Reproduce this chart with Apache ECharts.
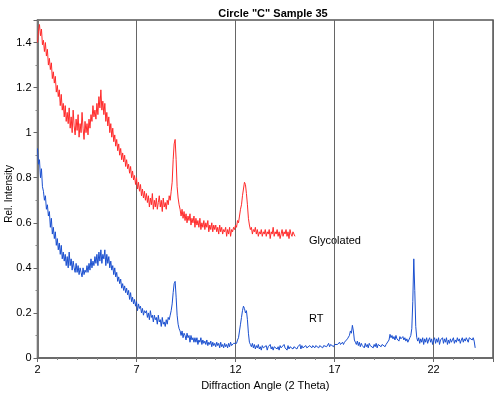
<!DOCTYPE html>
<html>
<head>
<meta charset="utf-8">
<script src="https://cdn.jsdelivr.net/npm/echarts@6/dist/echarts.min.js"></script>
<style>html,body{margin:0;padding:0;background:#fff}#c{width:500px;height:396px}</style>
</head>
<body>
<div id="c"></div>
<script>
var titleText = 'Circle "C" Sample 35';
var xName = 'Diffraction Angle (2 Theta)';
var yName = 'Rel. Intensity';
var xTicks = [2, 7, 12, 17, 22];
var yTicks = [0, 0.2, 0.4, 0.6, 0.8, 1, 1.2, 1.4];

// Glycolated: 2θ from 2.00, step 0.05
var glyStart = 2.0, glyStep = 0.05;
var glycolated = [
1.40,1.45,1.48,1.43,1.46,1.39,1.41,1.36,1.40,1.34,
1.37,1.30,1.33,1.28,1.31,1.24,1.27,1.22,1.25,1.18,
1.21,1.16,1.19,1.12,1.17,1.10,1.13,1.07,1.12,1.05,
1.09,1.04,1.11,1.02,1.07,1.00,1.10,1.03,0.99,1.06,
1.01,1.08,0.98,1.04,1.00,1.09,1.02,0.97,1.05,1.00,
1.04,0.99,1.06,1.02,1.08,1.05,1.12,1.07,1.10,1.06,
1.13,1.08,1.16,1.11,1.19,1.10,1.14,1.08,1.13,1.05,
1.09,1.03,1.07,1.00,1.04,0.98,1.02,0.96,0.99,0.94,
0.97,0.92,0.95,0.90,0.93,0.88,0.91,0.87,0.90,0.85,
0.88,0.84,0.86,0.82,0.85,0.80,0.83,0.79,0.81,0.77,
0.80,0.75,0.78,0.74,0.77,0.72,0.75,0.71,0.74,0.70,
0.73,0.69,0.72,0.67,0.71,0.68,0.73,0.66,0.70,0.67,
0.71,0.66,0.69,0.72,0.67,0.70,0.65,0.71,0.67,0.69,
0.66,0.70,0.68,0.72,0.70,0.74,0.78,0.88,0.95,0.97,
0.88,0.76,0.71,0.68,0.66,0.63,0.66,0.62,0.65,0.61,
0.64,0.60,0.63,0.61,0.64,0.59,0.62,0.60,0.63,0.58,
0.62,0.59,0.61,0.58,0.62,0.57,0.60,0.58,0.61,0.57,
0.60,0.58,0.61,0.56,0.59,0.57,0.60,0.56,0.59,0.57,
0.59,0.56,0.58,0.55,0.59,0.56,0.58,0.55,0.57,0.56,
0.58,0.54,0.57,0.55,0.58,0.54,0.57,0.56,0.58,0.57,
0.59,0.58,0.61,0.60,0.63,0.66,0.68,0.72,0.75,0.78,
0.77,0.73,0.68,0.62,0.59,0.57,0.58,0.55,0.57,0.56,
0.58,0.55,0.57,0.54,0.56,0.55,0.57,0.54,0.56,0.55,
0.57,0.54,0.56,0.55,0.57,0.53,0.56,0.55,0.58,0.54,
0.56,0.55,0.57,0.54,0.56,0.53,0.55,0.57,0.54,0.56,
0.55,0.57,0.54,0.56,0.53,0.57,0.55,0.54,0.56,0.55,
0.54
];

// RT: 2θ from 2.00, step 0.05
var rtStart = 2.0, rtStep = 0.05;
var rt = [
0.93,0.86,0.88,0.80,0.84,0.76,0.74,0.70,0.72,0.66,
0.68,0.63,0.65,0.58,0.62,0.55,0.58,0.53,0.56,0.50,
0.53,0.48,0.51,0.46,0.50,0.44,0.47,0.43,0.46,0.41,
0.45,0.40,0.47,0.41,0.44,0.39,0.43,0.40,0.38,0.42,
0.38,0.41,0.37,0.40,0.38,0.36,0.40,0.37,0.39,0.38,
0.41,0.38,0.42,0.39,0.44,0.40,0.43,0.41,0.45,0.42,
0.46,0.41,0.47,0.43,0.48,0.42,0.46,0.44,0.48,0.41,
0.46,0.42,0.45,0.40,0.43,0.39,0.41,0.37,0.40,0.36,
0.38,0.34,0.36,0.33,0.35,0.31,0.33,0.30,0.32,0.29,
0.31,0.28,0.30,0.26,0.29,0.25,0.27,0.24,0.26,0.23,
0.25,0.21,0.24,0.22,0.23,0.20,0.22,0.19,0.21,0.20,
0.21,0.18,0.20,0.17,0.21,0.18,0.19,0.16,0.19,0.17,
0.18,0.15,0.19,0.16,0.17,0.14,0.18,0.15,0.16,0.14,
0.17,0.15,0.18,0.17,0.19,0.21,0.24,0.29,0.33,0.34,
0.27,0.19,0.15,0.13,0.12,0.10,0.12,0.09,0.11,0.10,
0.08,0.11,0.09,0.10,0.07,0.10,0.08,0.09,0.07,0.09,
0.07,0.09,0.06,0.08,0.07,0.09,0.06,0.08,0.065,0.075,
0.06,0.08,0.055,0.07,0.06,0.075,0.05,0.07,0.055,0.065,
0.05,0.07,0.055,0.065,0.045,0.07,0.05,0.06,0.045,0.065,
0.05,0.06,0.045,0.065,0.05,0.07,0.055,0.06,0.065,0.06,
0.07,0.065,0.08,0.09,0.12,0.15,0.18,0.21,0.23,0.22,
0.20,0.21,0.17,0.11,0.07,0.06,0.05,0.065,0.045,0.06,
0.04,0.055,0.045,0.06,0.04,0.05,0.035,0.055,0.045,0.05,
0.04,0.055,0.035,0.05,0.045,0.06,0.04,0.05,0.035,0.05,
0.045,0.055,0.04,0.05,0.035,0.055,0.045,0.05,0.04,0.06,
0.045,0.05,0.035,0.055,0.04,0.05,0.045,0.055,0.04,0.05,
0.045,0.055,0.04,0.05,0.045,0.06,0.04,0.055,0.045,0.05,
0.04,0.055,0.045,0.05,0.04,0.055,0.05,0.045,0.055,0.05,
0.045,0.055,0.05,0.06,0.045,0.055,0.05,0.06,0.045,0.055,
0.05,0.06,0.05,0.055,0.065,0.05,0.06,0.055,0.065,0.05,
0.06,0.055,0.065,0.06,0.055,0.07,0.06,0.065,0.07,0.06,
0.07,0.075,0.07,0.085,0.09,0.10,0.12,0.11,0.145,0.12,
0.08,0.07,0.06,0.075,0.055,0.07,0.05,0.065,0.055,0.06,
0.045,0.065,0.05,0.06,0.045,0.065,0.055,0.05,0.06,0.045,
0.06,0.05,0.065,0.045,0.06,0.055,0.065,0.05,0.06,0.055,
0.065,0.05,0.06,0.065,0.06,0.08,0.105,0.09,0.10,0.085,
0.095,0.08,0.10,0.085,0.09,0.075,0.095,0.085,0.08,0.095,
0.08,0.09,0.075,0.085,0.07,0.08,0.09,0.10,0.13,0.25,
0.44,0.30,0.14,0.09,0.075,0.09,0.065,0.085,0.07,0.09,
0.06,0.085,0.07,0.09,0.065,0.08,0.09,0.07,0.085,0.06,
0.08,0.09,0.065,0.085,0.07,0.09,0.06,0.08,0.075,0.09,
0.065,0.085,0.07,0.09,0.06,0.08,0.065,0.085,0.07,0.08,
0.09,0.065,0.08,0.07,0.09,0.075,0.085,0.065,0.08,0.09,
0.07,0.085,0.075,0.09,0.08,0.07,0.09,0.085,0.095,0.08,
0.09,0.075,0.045
];

function pairs(start, step, arr) {
  return arr.map(function (v, i) { return [+(start + i * step).toFixed(2), v]; });
}

var chart = echarts.init(document.getElementById('c'));
var font = 'Arial, "Liberation Sans", sans-serif';
chart.setOption({
  animation: false,
  backgroundColor: '#fff',
  title: {
    text: titleText, left: 268, top: 3, textAlign: 'center',
    textStyle: { fontFamily: font, fontSize: 11, fontWeight: 'bold', color: '#000' }
  },
  grid: { left: 37.5, right: 7, top: 20, bottom: 36, show: true, borderColor: '#555', borderWidth: 1.5, backgroundColor: 'transparent' },
  xAxis: {
    type: 'value', min: 2, max: 25, interval: 5,
    name: xName, nameLocation: 'middle', nameGap: 22,
    nameTextStyle: { fontFamily: font, fontSize: 11, color: '#000' },
    axisLine: { lineStyle: { color: '#666', width: 1.5 } },
    axisTick: { length: 4, lineStyle: { color: '#666' } },
    minorTick: { show: true, splitNumber: 5, length: 2, lineStyle: { color: '#888' } },
    axisLabel: { fontFamily: font, fontSize: 11, color: '#000', margin: 6, showMaxLabel: false,
      formatter: function (v) { return xTicks.indexOf(v) >= 0 ? String(v) : ''; } },
    splitLine: { show: true, lineStyle: { color: '#666', width: 1 } }
  },
  yAxis: {
    type: 'value', min: 0, max: 1.5, interval: 0.2,
    axisLine: { show: true, lineStyle: { color: '#777', width: 2 } },
    axisTick: { show: true, length: 4, lineStyle: { color: '#666' } },
    minorTick: { show: true, splitNumber: 2, length: 2, lineStyle: { color: '#888' } },
    axisLabel: { fontFamily: font, fontSize: 11, color: '#000', margin: 6, showMaxLabel: false,
      formatter: function (v) { var r = Math.round(v * 10) / 10; return yTicks.indexOf(r) >= 0 ? String(r) : ''; } },
    splitLine: { show: false }
  },
  graphic: [
    { type: 'text', left: 4, top: 165, rotation: Math.PI / 2, style: { text: yName, fontFamily: font, fontSize: 10, fill: '#000' } },
    { type: 'text', left: 309, top: 235, style: { text: 'Glycolated', fontFamily: font, fontSize: 11, fill: '#000' } },
    { type: 'text', left: 309, top: 313, style: { text: 'RT', fontFamily: font, fontSize: 11, fill: '#000' } }
  ],
  series: [
    { name: 'Glycolated', type: 'line', data: pairs(glyStart, glyStep, glycolated), showSymbol: false,
      lineStyle: { color: '#ff2a2a', width: 1 }, itemStyle: { color: '#ff2a2a' } },
    { name: 'RT', type: 'line', data: pairs(rtStart, rtStep, rt), showSymbol: false,
      lineStyle: { color: '#1a4fcf', width: 1 }, itemStyle: { color: '#1a4fcf' } }
  ]
});
</script>
</body>
</html>
